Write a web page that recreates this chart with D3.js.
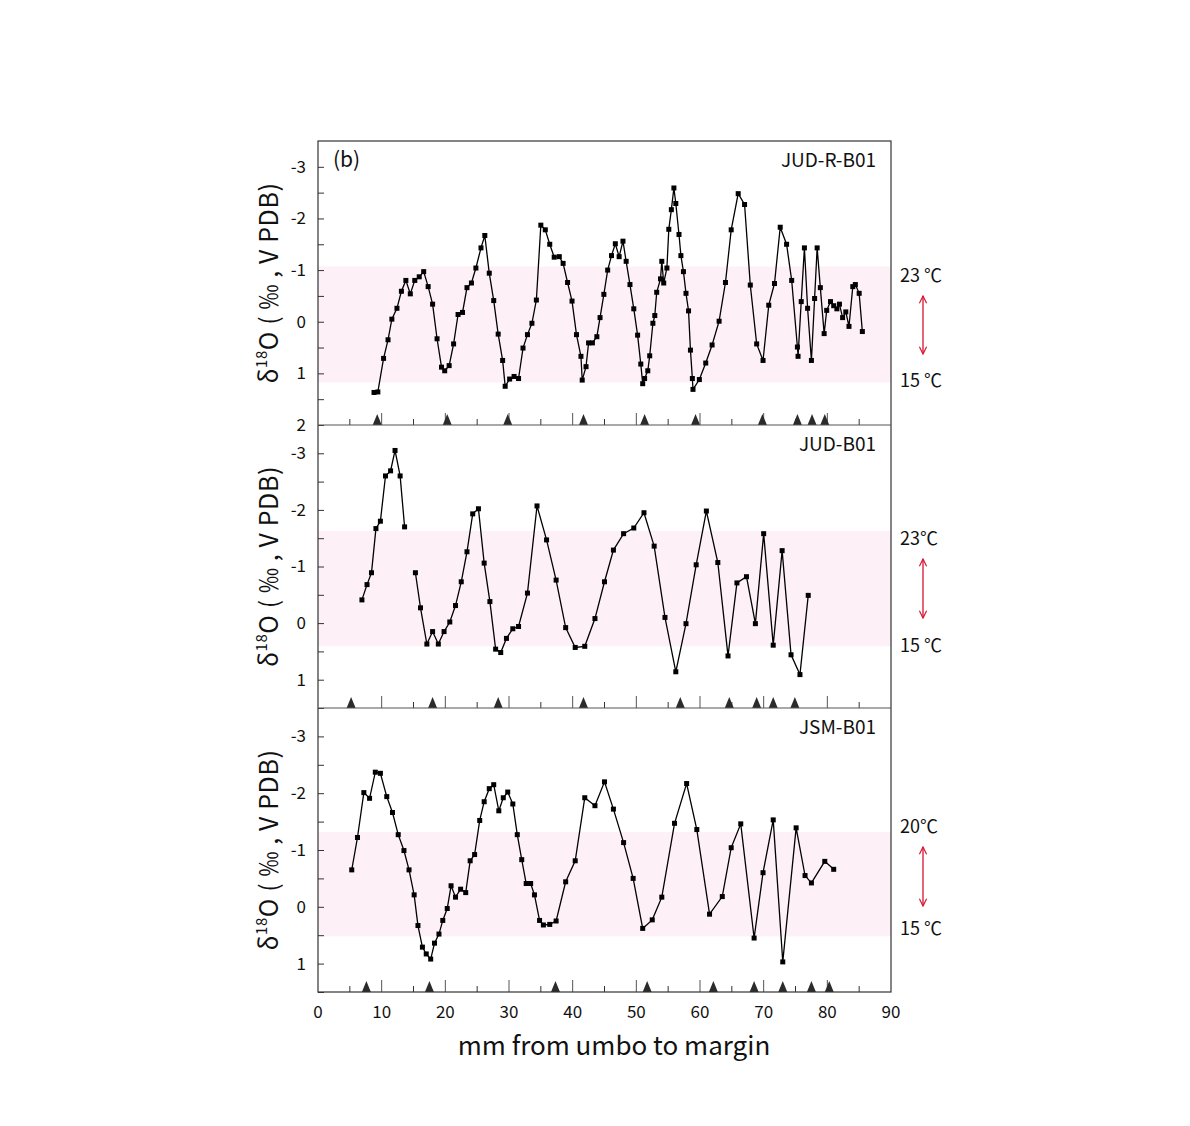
<!DOCTYPE html>
<html>
<head>
<meta charset="utf-8">
<script src="https://cdn.jsdelivr.net/npm/d3@7"></script>
<style>
html,body{margin:0;padding:0;background:#fff;}
svg text{font-family:"Noto Sans CJK KR","Noto Sans",sans-serif;fill:#111;}
</style>
</head>
<body>
<script>
// ---------- DATA ----------
const xTicks = [0,10,20,30,40,50,60,70,80,90];

// Panel 1: JUD-R-B01
const p1Name = "JUD-R-B01";
const p1X = [8.8,9.4,10.3,11.0,11.6,12.4,13.1,13.8,14.5,15.2,
  15.9,16.6,17.3,18.0,18.7,19.4,19.9,20.6,21.3,22.0,
  22.7,23.4,24.1,24.8,25.6,26.2,26.9,27.6,28.3,29.0,
  29.4,30.1,30.8,31.5,32.2,32.9,33.6,34.3,35.0,35.7,
  36.4,37.1,37.9,38.5,39.2,39.9,40.6,41.3,41.5,42.1,
  42.5,43.1,43.8,44.3,44.9,45.5,46.1,46.7,47.3,47.9,
  48.4,49.0,49.6,50.2,50.7,51.0,51.3,51.8,52.1,52.6,
  52.9,53.2,53.8,54.0,54.3,54.8,55.1,55.5,55.9,56.2,
  56.7,57.0,57.4,57.8,58.2,58.5,58.8,58.9,59.9,60.9,
  61.9,63.0,64.0,64.9,66.0,67.0,67.9,68.9,69.9,70.8,
  71.7,72.6,73.6,74.4,75.3,75.4,75.9,76.4,76.9,77.5,
  78.0,78.4,78.9,79.5,79.9,80.5,81.0,81.5,81.9,82.4,
  82.9,83.4,84.0,84.4,85.0,85.5];
const p1Y = [1.37,1.36,0.71,0.35,-0.05,-0.26,-0.59,-0.80,-0.54,-0.80,
  -0.87,-0.97,-0.68,-0.34,0.33,0.88,0.95,0.85,0.43,-0.14,
  -0.18,-0.66,-0.75,-1.04,-1.43,-1.67,-0.94,-0.41,0.24,0.75,
  1.25,1.11,1.06,1.10,0.51,0.25,0.03,-0.42,-1.87,-1.78,
  -1.50,-1.25,-1.26,-1.13,-0.76,-0.40,0.25,0.67,1.13,0.87,
  0.41,0.41,0.29,-0.08,-0.53,-1.00,-1.28,-1.51,-1.26,-1.56,
  -1.17,-0.72,-0.25,0.26,0.82,1.20,1.10,0.95,0.66,0.03,
  -0.12,-0.57,-0.83,-1.17,-0.75,-1.04,-1.79,-2.17,-2.59,-2.29,
  -1.69,-1.28,-0.97,-0.55,-0.21,0.55,1.10,1.31,1.12,0.80,
  0.45,-0.01,-0.76,-1.78,-2.48,-2.27,-0.71,0.43,0.75,-0.32,
  -0.74,-1.83,-1.50,-0.80,0.49,0.67,-0.39,-1.43,-0.26,0.75,
  -0.45,-1.43,-0.66,0.23,-0.22,-0.39,-0.31,-0.25,-0.34,-0.08,
  -0.19,0.09,-0.68,-0.72,-0.55,0.19];
const p1Marks = [9.3,20.3,29.8,41.7,51.3,59.3,69.8,75.3,77.6,79.6];
const p1Band = [-1.07,1.18];
const p1Temps = ["23 ℃","15 ℃"];
const p1YTicks = [-3,-2,-1,0,1,2];

// Panel 2: JUD-B01 (null = gap in record)
const p2Name = "JUD-B01";
const p2X = [6.9,7.7,8.4,9.1,9.8,10.6,11.4,12.1,12.9,13.6,14.4,
  15.3,16.1,17.1,18.0,18.9,19.8,20.7,21.6,22.5,23.4,
  24.3,25.2,26.1,27.0,27.9,28.7,29.6,30.6,31.5,32.9,
  34.4,35.9,37.4,38.9,40.4,41.9,43.5,45.0,46.4,48.0,
  49.6,51.2,52.8,54.5,56.2,57.8,59.4,61.0,62.8,64.4,
  65.8,67.3,68.7,70.0,71.5,72.9,74.3,75.7,77.0];
const p2Y = [-0.41,-0.68,-0.89,-1.67,-1.80,-2.60,-2.69,-3.05,-2.60,-1.70,null,
  -0.89,-0.27,0.37,0.15,0.37,0.15,-0.02,-0.31,-0.73,-1.26,
  -1.93,-2.02,-1.06,-0.38,0.46,0.52,0.27,0.10,0.06,-0.53,
  -2.07,-1.47,-0.76,0.08,0.43,0.41,-0.08,-0.73,-1.29,-1.58,
  -1.68,-1.95,-1.36,-0.10,0.86,0.01,-1.03,-1.98,-1.07,0.58,
  -0.71,-0.82,0.01,-1.58,0.39,-1.28,0.56,0.91,-0.49];
const p2Marks = [5.2,18.0,28.3,41.7,56.9,64.6,68.9,71.5,74.9];
const p2Band = [-1.63,0.41];
const p2Temps = ["23℃","15 ℃"];
const p2YTicks = [-3,-2,-1,0,1];

// Panel 3: JSM-B01
const p3Name = "JSM-B01";
const p3X = [5.3,6.2,7.2,8.1,9.0,9.8,10.8,11.7,12.6,13.5,
  14.3,15.1,15.7,16.4,17.0,17.7,18.3,19.0,19.6,20.3,
  20.9,21.6,22.4,23.2,23.9,24.6,25.4,26.1,26.9,27.6,
  28.4,29.1,29.8,30.6,31.3,32.0,32.7,33.4,34.0,34.8,
  35.4,36.4,37.4,38.9,40.4,41.9,43.5,45.0,46.4,48.0,
  49.5,51.0,52.5,54.0,56.0,57.9,59.5,61.5,63.5,64.9,
  66.4,68.5,69.9,71.5,73.0,75.1,76.5,77.5,79.6,81.0];
const p3Y = [-0.65,-1.22,-2.01,-1.91,-2.37,-2.35,-1.94,-1.66,-1.27,-0.99,
  -0.65,-0.21,0.33,0.71,0.83,0.92,0.64,0.48,0.24,0.03,
  -0.37,-0.17,-0.31,-0.25,-0.81,-0.92,-1.52,-1.85,-2.08,-2.15,
  -1.69,-1.92,-2.02,-1.81,-1.27,-0.83,-0.41,-0.41,-0.21,0.24,
  0.32,0.31,0.25,-0.44,-0.81,-1.92,-1.78,-2.20,-1.72,-1.13,
  -0.50,0.38,0.23,-0.17,-1.47,-2.17,-1.36,0.13,-0.18,-1.04,
  -1.46,0.55,-0.60,-1.53,0.97,-1.39,-0.55,-0.42,-0.80,-0.66];
const p3Marks = [7.6,17.5,37.3,51.7,62.1,68.5,73.0,77.5,80.3];
const p3Band = [-1.32,0.52];
const p3Temps = ["20℃","15 ℃"];
const p3YTicks = [-3,-2,-1,0,1];

// ---------- LAYOUT ----------
const W = 1190, H = 1126;
const left = 318, right = 891;
const panels = [
  {name:p1Name, xs:p1X, ys:p1Y, marks:p1Marks, band:p1Band, temps:p1Temps, yt:p1YTicks, top:141, bot:425, dom:[-3.5,2], tempY:[276,381], arrow:[296,354], label:"(b)"},
  {name:p2Name, xs:p2X, ys:p2Y, marks:p2Marks, band:p2Band, temps:p2Temps, yt:p2YTicks, top:425, bot:708, dom:[-3.5,1.5], tempY:[539,646], arrow:[559,618]},
  {name:p3Name, xs:p3X, ys:p3Y, marks:p3Marks, band:p3Band, temps:p3Temps, yt:p3YTicks, top:708, bot:992, dom:[-3.5,1.5], tempY:[827,929], arrow:[847,906]}
];

const svg = d3.select("body").append("svg").attr("width",W).attr("height",H);
const x = d3.scaleLinear().domain([0,90]).range([left,right]);

const defs = svg.append("defs");
defs.append("marker").attr("id","ah").attr("viewBox","0 0 10 10").attr("refX",9).attr("refY",5)
  .attr("markerWidth",9).attr("markerHeight",9).attr("orient","auto-start-reverse")
  .attr("markerUnits","userSpaceOnUse")
  .append("path").attr("d","M1,1 L9,5 L1,9").attr("fill","none").attr("stroke","#d7132e").attr("stroke-width",1.3);

panels.forEach((p,i)=>{
  const y = d3.scaleLinear().domain(p.dom).range([p.top,p.bot]);
  const g = svg.append("g");
  // band
  g.append("rect").attr("x",left).attr("width",right-left)
    .attr("y",y(p.band[0])).attr("height",y(p.band[1])-y(p.band[0]))
    .attr("fill","#fdf1f7");
  // y ticks (inward)
  const ax = d3.axisRight(y).tickValues(d3.range(p.dom[0]+0.5, p.dom[1]+0.001, 0.5).filter(v=>v>p.dom[0] && v<p.dom[1]+0.01))
    .tickSize(6).tickFormat("");
  const ayg = g.append("g").attr("transform",`translate(${left},0)`).call(ax);
  ayg.select(".domain").remove();
  ayg.selectAll("line").attr("stroke","#333");
  // y tick labels
  g.selectAll(".yl").data(p.yt).enter().append("text")
    .attr("x",306).attr("y",d=>y(d)).attr("dy","0.35em").attr("text-anchor","end")
    .attr("font-size",17).text(d=>d);
  // x ticks inward at bottom
  const minorT = d3.range(5,90,10), majorT = d3.range(10,90,10);
  g.selectAll(".xm").data(minorT).enter().append("line")
    .attr("x1",d=>x(d)).attr("x2",d=>x(d)).attr("y1",p.bot).attr("y2",p.bot-6).attr("stroke","#333");
  g.selectAll(".xM").data(majorT).enter().append("line")
    .attr("x1",d=>x(d)).attr("x2",d=>x(d)).attr("y1",p.bot).attr("y2",p.bot-12).attr("stroke","#555");
  // growth marks (triangles)
  g.selectAll(".tri").data(p.marks).enter().append("path")
    .attr("d",d=>`M${x(d)-4.5},${p.bot} L${x(d)},${p.bot-11} L${x(d)+4.5},${p.bot} Z`)
    .attr("fill","#2b2b2b");
  // line
  const pts = p.xs.map((v,k)=>({x:v,y:p.ys[k]}));
  const line = d3.line().defined(d=>d.y!==null).x(d=>x(d.x)).y(d=>y(d.y));
  g.append("path").datum(pts).attr("d",line).attr("fill","none").attr("stroke","#000").attr("stroke-width",1.3);
  g.selectAll(".pt").data(pts.filter(d=>d.y!==null)).enter().append("rect")
    .attr("x",d=>x(d.x)-2.5).attr("y",d=>y(d.y)-2.5).attr("width",5).attr("height",5).attr("fill","#000");
  // name
  g.append("text").attr("x",876).attr("y",p.top+26).attr("text-anchor","end").attr("font-size",19).text(p.name);
  if(p.label) g.append("text").attr("x",333).attr("y",p.top+26).attr("font-size",21).text(p.label);
  // y axis title
  const cy = (p.top+p.bot)/2;
  const t = g.append("text").attr("transform",`translate(278,${cy}) rotate(-90)`).attr("text-anchor","middle")
    .attr("font-size",25).attr("letter-spacing",0.6);
  t.append("tspan").text("δ");
  t.append("tspan").attr("font-size",15).attr("dy",-11).text("18");
  t.append("tspan").attr("dy",11).text("O ( ‰ , V PDB)");
  // temperatures
  g.append("text").attr("x",900).attr("y",p.tempY[0]).attr("dy","0.35em").attr("font-size",18).text(p.temps[0]);
  g.append("text").attr("x",900).attr("y",p.tempY[1]).attr("dy","0.35em").attr("font-size",18).text(p.temps[1]);
  g.append("line").attr("x1",923).attr("x2",923).attr("y1",p.arrow[0]).attr("y2",p.arrow[1])
    .attr("stroke","#d7132e").attr("stroke-width",1.3)
    .attr("marker-start","url(#ah)").attr("marker-end","url(#ah)");
});

// frame and separators
svg.append("rect").attr("x",left).attr("y",141).attr("width",right-left).attr("height",992-141)
  .attr("fill","none").attr("stroke","#333").attr("stroke-width",1.2);
[425,708].forEach(v=>svg.append("line").attr("x1",left).attr("x2",right).attr("y1",v).attr("y2",v).attr("stroke","#555").attr("stroke-width",1.2));

// x axis labels
svg.selectAll(".xl").data(xTicks).enter().append("text")
  .attr("x",d=>x(d)).attr("y",1012).attr("dy","0.35em").attr("text-anchor","middle").attr("font-size",17).text(d=>d);
svg.append("text").attr("x",614).attr("y",1055).attr("text-anchor","middle").attr("font-size",26).text("mm from umbo to margin");
</script>
</body>
</html>
